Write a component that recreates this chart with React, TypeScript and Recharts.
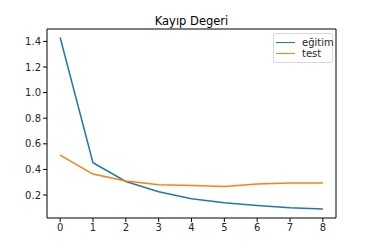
import { LineChart, Line, XAxis, YAxis, ReferenceArea } from "recharts";

// ─── Data ─────────────────────────────────────────────────────────────────────
const epochs = [0, 1, 2, 3, 4, 5, 6, 7, 8];
const trainLoss = [1.431, 0.452, 0.306, 0.226, 0.171, 0.14, 0.119, 0.101, 0.091];
const testLoss = [0.512, 0.364, 0.309, 0.28, 0.275, 0.267, 0.286, 0.294, 0.294];
const yTicks = [0.2, 0.4, 0.6, 0.8, 1.0, 1.2, 1.4];

const rows = epochs.map((e, i) => ({ epoch: e, train: trainLoss[i], test: testLoss[i] }));

const FONT = "'DejaVu Sans', sans-serif";
const TICK = { fill: "#262626", fontSize: 10, fontFamily: FONT };

const legendItems = [
  { label: "eğitim", color: "#1f77b4" },
  { label: "test", color: "#ff7f0e" },
];

function LegendBox() {
  return (
    <div
      style={{
        position: "absolute",
        left: 273,
        top: 33,
        width: 58,
        height: 28,
        border: "1px solid #d9d9d9",
        borderRadius: 2,
        background: "rgba(255,255,255,0.8)",
        fontFamily: FONT,
        fontSize: 10,
        color: "#262626",
      }}
    >
      {legendItems.map((it, i) => (
        <div
          key={it.label}
          style={{ position: "absolute", left: 2, top: 2 + i * 11.7, display: "flex", alignItems: "center", height: 12 }}
        >
          <span style={{ display: "inline-block", width: 19, height: 0, borderTop: `1.5px solid ${it.color}`, marginRight: 7 }} />
          <span>{it.label}</span>
        </div>
      ))}
    </div>
  );
}

export default function App() {
  return (
    <div style={{ position: "absolute", left: 0, top: 0, width: 374, height: 249, background: "#fff" }}>
      <div
        style={{
          position: "absolute",
          left: 47,
          width: 289,
          top: 14,
          textAlign: "center",
          fontFamily: FONT,
          fontSize: 11.5,
          color: "#000",
        }}
      >
        Kayıp Degeri
      </div>
      <LineChart width={374} height={249} data={rows} margin={{ top: 29, right: 38, bottom: 0, left: 0 }}>
        <XAxis
          dataKey="epoch"
          type="number"
          domain={[-0.4, 8.4]}
          ticks={epochs}
          allowDataOverflow
          height={31}
          tickSize={4}
          tick={TICK}
          tickLine={{ stroke: "#000" }}
          axisLine={false}
        />
        <YAxis
          type="number"
          domain={[0.0205, 1.497]}
          ticks={yTicks}
          allowDataOverflow
          width={47}
          tickSize={4}
          tick={TICK}
          tickLine={{ stroke: "#000" }}
          tickFormatter={(v: number) => v.toFixed(1)}
          axisLine={false}
        />
        <ReferenceArea x1={-0.4} x2={8.4} y1={0.0205} y2={1.497} fill="none" stroke="#000" strokeWidth={1} ifOverflow="extendDomain" />
        <Line type="linear" dataKey="train" stroke="#1f77b4" strokeWidth={1.5} dot={false} isAnimationActive={false} />
        <Line type="linear" dataKey="test" stroke="#ff7f0e" strokeWidth={1.5} dot={false} isAnimationActive={false} />
      </LineChart>
      <LegendBox />
    </div>
  );
}
